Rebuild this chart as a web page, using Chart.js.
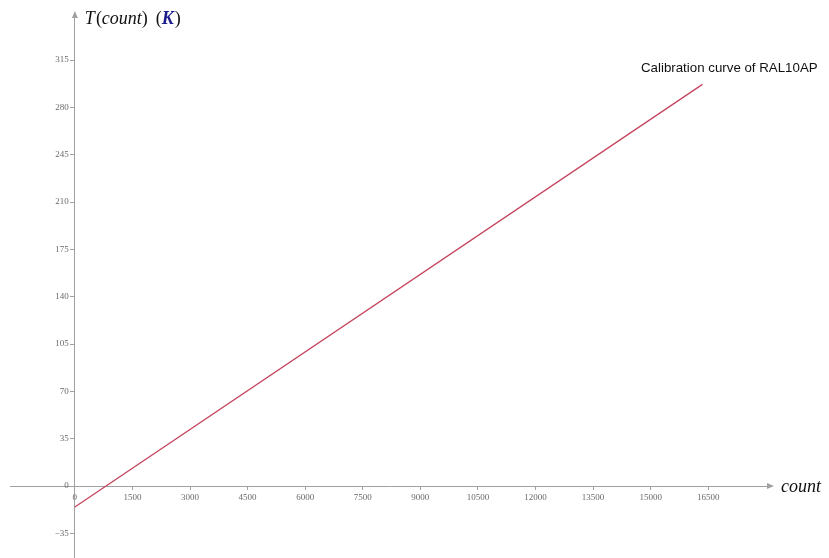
<!DOCTYPE html>
<html lang="en">
<head>
<meta charset="UTF-8">
<title>Calibration curve of RAL10AP</title>
<script src="https://cdn.jsdelivr.net/npm/chart.js"></script>
<style>
    body { margin: 0; background: #ffffff; }
    #wrap { width: 829px; height: 558px; }
</style>
</head>
<body>
<div id="wrap"><canvas id="calChart" width="829" height="558"></canvas></div>
<script>
    // values
    const counts = [0, 16350];
    const temps = [-15.5, 297];
    const xTicks = [0, 1500, 3000, 4500, 6000, 7500, 9000, 10500, 12000, 13500, 15000, 16500];
    const yTicks = [-35, 0, 35, 70, 105, 140, 175, 210, 245, 280, 315];
    const curveLabel = 'Calibration curve of RAL10AP';

    const axisColor = '#a0a0a0';
    const tickColor = '#6a6a6a';
    const tickFont = { family: 'Liberation Serif', size: 9 };

    // arrows, y tick labels, axis titles and curve label
    const decorations = {
        id: 'decorations',
        afterDraw(chart) {
            const ctx = chart.ctx;
            const area = chart.chartArea;
            const yScale = chart.scales.y;
            const x0 = chart.scales.x.getPixelForValue(0);
            const y0 = yScale.getPixelForValue(0);
            ctx.save();
            ctx.fillStyle = axisColor;
            ctx.beginPath();
            ctx.moveTo(area.right + 4, y0);
            ctx.lineTo(area.right - 3, y0 - 3);
            ctx.lineTo(area.right - 3, y0 + 3);
            ctx.fill();
            ctx.beginPath();
            ctx.moveTo(x0, area.top - 4);
            ctx.lineTo(x0 - 3, area.top + 3);
            ctx.lineTo(x0 + 3, area.top + 3);
            ctx.fill();

            // y tick labels, left of the axis
            ctx.fillStyle = tickColor;
            ctx.font = tickFont.size + 'px "' + tickFont.family + '"';
            ctx.textAlign = 'right';
            ctx.textBaseline = 'middle';
            yTicks.forEach(v => {
                ctx.fillText(v < 0 ? '\u2212' + Math.abs(v) : String(v), x0 - 6, yScale.getPixelForValue(v));
            });

            ctx.textAlign = 'left';
            ctx.textBaseline = 'alphabetic';
            ctx.fillStyle = '#111';
            ctx.font = 'italic 18px "Liberation Serif"';
            ctx.fillText('count', area.right + 11, y0 + 6);
            let tx = x0 + 10;
            ctx.fillText('T', tx, 24);
            tx += ctx.measureText('T').width + 1;
            ctx.font = '18px "Liberation Serif"';
            ctx.fillText('(', tx, 24);
            tx += ctx.measureText('(').width;
            ctx.font = 'italic 18px "Liberation Serif"';
            ctx.fillText('count', tx, 24);
            tx += ctx.measureText('count').width;
            ctx.font = '18px "Liberation Serif"';
            ctx.fillText(')', tx, 24);
            tx += ctx.measureText(')').width + 8;
            ctx.fillText('(', tx, 24);
            tx += ctx.measureText('(').width;
            ctx.fillStyle = '#1c1c8c';
            ctx.font = 'italic bold 18px "Liberation Serif"';
            ctx.fillText('K', tx, 24);
            tx += ctx.measureText('K').width + 1;
            ctx.fillStyle = '#111';
            ctx.font = '18px "Liberation Serif"';
            ctx.fillText(')', tx, 24);

            ctx.font = '13.3px "Liberation Sans"';
            ctx.fillStyle = '#111';
            ctx.fillText(curveLabel, 641, 72);
            ctx.restore();
        }
    };

    const noPad = s => { s.paddingTop = 0; s.paddingBottom = 0; s.paddingLeft = 0; s.paddingRight = 0; };

    new Chart(document.getElementById('calChart'), {
        type: 'scatter',
        data: {
            datasets: [{
                label: curveLabel,
                data: counts.map((c, i) => ({ x: c, y: temps[i] })),
                showLine: true,
                borderColor: '#c4445e',
                borderWidth: 1.3,
                pointRadius: 0
            }]
        },
        options: {
            responsive: false,
            animation: false,
            layout: { padding: { left: 10, right: 59, top: 15, bottom: 0 } },
            plugins: { legend: { display: false }, tooltip: { enabled: false } },
            scales: {
                x: {
                    type: 'linear',
                    position: { y: 0 },
                    min: -1690,
                    max: 18110,
                    afterBuildTicks: s => { s.ticks = xTicks.map(v => ({ value: v })); },
                    afterFit: noPad,
                    grid: { drawOnChartArea: false, color: axisColor, tickLength: 3 },
                    border: { color: axisColor },
                    ticks: { font: tickFont, color: tickColor, padding: 3, maxRotation: 0, autoSkip: false, callback: v => String(v) }
                },
                y: {
                    type: 'linear',
                    position: { x: 0 },
                    min: -53.2,
                    max: 348.3,
                    afterBuildTicks: s => { s.ticks = yTicks.map(v => ({ value: v })); },
                    afterFit: noPad,
                    grid: { drawOnChartArea: false, color: axisColor, tickLength: 4 },
                    border: { color: axisColor },
                    ticks: { display: false }
                }
            }
        },
        plugins: [decorations]
    });
</script>
</body>
</html>
